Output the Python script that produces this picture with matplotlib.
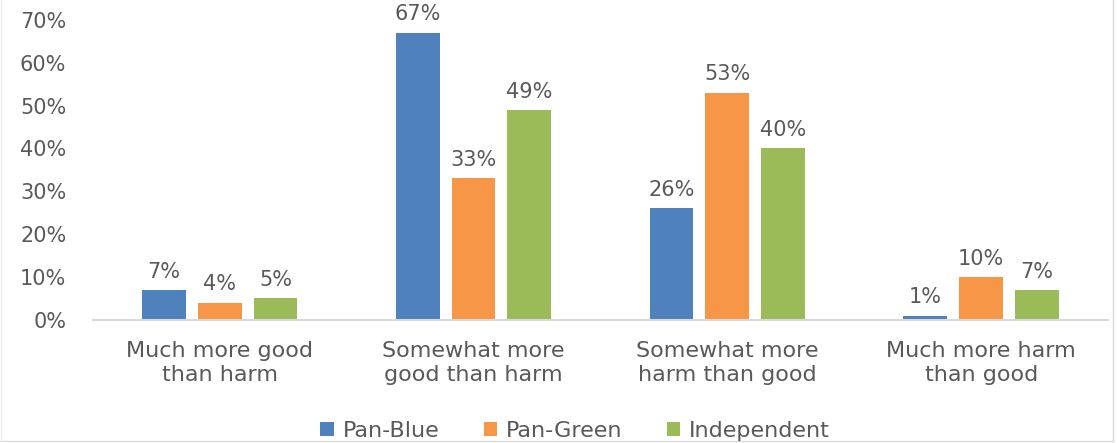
import numpy as np
import matplotlib.pyplot as plt
from matplotlib.lines import Line2D

categories = ['Much more good\nthan harm', 'Somewhat more\ngood than harm',
              'Somewhat more\nharm than good', 'Much more harm\nthan good']
series = ['Pan-Blue', 'Pan-Green', 'Independent']
pan_blue = [7, 67, 26, 1]
pan_green = [4, 33, 53, 10]
independent = [5, 49, 40, 7]
colors = ['#4f81bd', '#f79646', '#9bbb59']

plt.rcParams['font.family'] = ['DejaVu Sans']
text_color = '#595959'

fig = plt.figure(figsize=(11.17, 4.43), dpi=100)
ax = fig.add_axes([0.083, 0.278, 0.909, 0.677])

x = np.arange(len(categories))
width = 0.173
step = 0.22
for i, (name, vals) in enumerate(zip(series, [pan_blue, pan_green, independent])):
    pos = x + (i - 1) * step
    vals = np.array(vals) / 100
    ax.bar(pos, vals, width, color=colors[i], label=name)
    for p, v in zip(pos, vals):
        ax.annotate(f'{v*100:.0f}%', (p, v), xytext=(0, 6), textcoords='offset points',
                    ha='center', va='bottom', fontsize=15, color=text_color)

ax.set_xlim(-0.5, 3.5)
ax.set_ylim(0, 0.7)
ax.set_yticks(np.arange(0, 0.71, 0.1))
ax.set_yticklabels([f'{t}%' for t in range(0, 71, 10)])
ax.set_xticks(x)
ax.set_xticklabels(categories, fontsize=16, linespacing=1.3)
ax.tick_params(axis='both', length=0, colors=text_color)
ax.tick_params(axis='y', labelsize=15, pad=19)
ax.tick_params(axis='x', pad=15)
for s in ['top', 'right', 'left']:
    ax.spines[s].set_visible(False)
ax.spines['bottom'].set_color('#d9d9d9')
ax.spines['bottom'].set_linewidth(1.5)

leg = fig.legend(loc='lower center', bbox_to_anchor=(0.515, -0.04), ncol=3, frameon=False,
                 fontsize=16, handlelength=0.6, handleheight=0.6, columnspacing=2.0,
                 handletextpad=0.4)
for t in leg.get_texts():
    t.set_color(text_color)

# light frame on the right and bottom edges
fig.add_artist(Line2D([0.996, 0.996], [0.005, 1], transform=fig.transFigure,
                      color='#d9d9d9', linewidth=1))
fig.add_artist(Line2D([0, 0.996], [0.005, 0.005], transform=fig.transFigure,
                      color='#d9d9d9', linewidth=1))
fig.add_artist(Line2D([0.001, 0.001], [0.005, 1], transform=fig.transFigure,
                      color='#eeeeee', linewidth=1))

fig.savefig('out.png', dpi=100)
